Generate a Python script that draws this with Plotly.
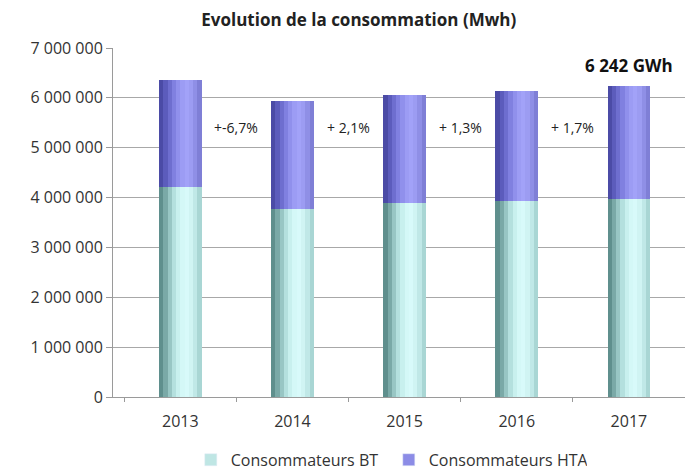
import plotly.graph_objects as go

years = ["2013", "2014", "2015", "2016", "2017"]
bt_mwh = [4210000, 3780000, 3900000, 3930000, 3980000]
hta_mwh = [2150000, 2150000, 2160000, 2210000, 2262000]
growth_labels = ["+-6,7%", "+ 2,1%", "+ 1,3%", "+ 1,7%"]
total_label = "6 242 GWh"

# cylinder shading, left (dark) -> right
bt_shades = ["#5f8f8d", "#7aa9a7", "#98c6c4", "#b4e0de", "#c8f0ee",
             "#d4f8f7", "#d8fafa", "#d0f4f3", "#c0e8e7", "#a9d6d4"]
hta_shades = ["#4b4ba6", "#5c5cbc", "#6e6ecf", "#8080e0", "#9090ec",
              "#9c9cf4", "#a2a2f8", "#9c9cf2", "#8f8fe6", "#7f7fd6"]

bar_w = 0.38
n_slices = len(bt_shades)
slice_w = bar_w / n_slices

fig = go.Figure()

totals = [b + h for b, h in zip(bt_mwh, hta_mwh)]

for i in range(n_slices):
    off = -bar_w / 2 + i * slice_w
    fig.add_trace(go.Bar(
        x=years, y=bt_mwh, base=[0] * len(years),
        width=slice_w * 1.02, offset=off,
        marker=dict(color=bt_shades[i], line_width=0),
        name="Consommateurs BT", legendgroup="bt",
        showlegend=False, hoverinfo="skip",
    ))
    fig.add_trace(go.Bar(
        x=years, y=hta_mwh, base=bt_mwh,
        width=slice_w * 1.02, offset=off,
        marker=dict(color=hta_shades[i], line_width=0),
        name="Consommateurs HTA", legendgroup="hta",
        showlegend=False, hoverinfo="skip",
    ))

# legend entries
fig.add_trace(go.Bar(x=[None], y=[None], name="Consommateurs BT",
                     marker_color="#bfe6e4", legendgroup="bt"))
fig.add_trace(go.Bar(x=[None], y=[None], name="Consommateurs HTA",
                     marker_color="#8c8ce6", legendgroup="hta"))

# growth labels between bars
for i, txt in enumerate(growth_labels):
    fig.add_annotation(x=i + 0.5, y=5400000, xref="x", yref="y",
                       text=txt, showarrow=False,
                       font=dict(size=14, color="#222222"))

fig.add_annotation(x=len(years) - 1, y=totals[-1], xref="x", yref="y",
                   text=f"<b>{total_label}</b>", showarrow=False,
                   yanchor="bottom", yshift=7,
                   font=dict(size=17, color="#111111"))

# page body has an 8px margin, so the figure is sized 8px smaller
fig.update_layout(
    barmode="overlay",
    bargap=0,
    width=685, height=464,
    margin=dict(l=105, r=8, t=40, b=75, autoexpand=False),
    paper_bgcolor="white", plot_bgcolor="white",
    separators=", ",
    font=dict(family="Open Sans, Liberation Sans, sans-serif", color="#333333"),
    title=dict(text="<b>Evolution de la consommation (Mwh)</b>",
               x=0.512, xanchor="center", y=0.986, yanchor="top",
               font=dict(size=17, color="#222222")),
    legend=dict(orientation="h", x=0.136, xanchor="left", y=-0.18,
                yanchor="middle", font=dict(size=16, color="#333333"),
                traceorder="normal", itemwidth=30,
                entrywidth=153, entrywidthmode="pixels"),
    showlegend=True,
)
fig.update_xaxes(type="category", showgrid=False, showline=True,
                 linecolor="#9a9a9a", linewidth=1, ticks="outside",
                 tickson="boundaries", ticklen=4, tickcolor="#9a9a9a",
                 ticklabelstandoff=10,
                 tickfont=dict(size=16, color="#333333"),
                 range=[-0.6, 4.5], automargin=False)
fig.update_yaxes(range=[0, 7000000], dtick=1000000, tickformat=",d",
                 showgrid=True, gridcolor="#a8a8a8", gridwidth=1,
                 showline=True, linecolor="#9a9a9a", ticks="outside",
                 ticklen=6, tickcolor="#9a9a9a", zeroline=False,
                 automargin=False,
                 tickfont=dict(size=16, color="#333333"))

fig.write_html("out.html")
